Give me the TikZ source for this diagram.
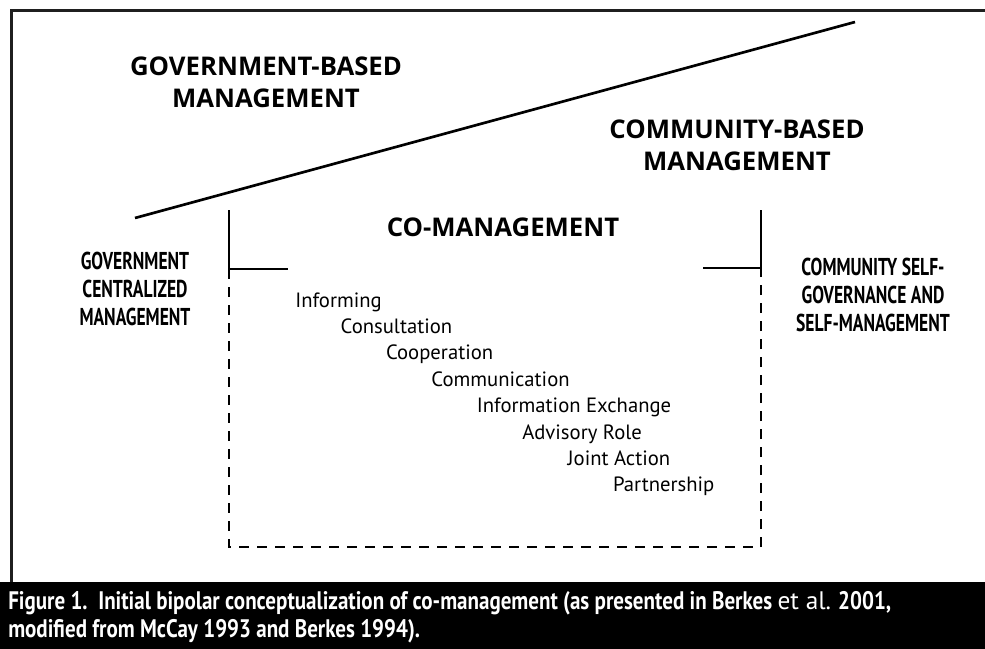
\documentclass[tikz,border=0pt]{standalone}
\usepackage{fontspec}
\setmainfont{Open Sans}
\newfontfamily\listfont{PT Sans}
\newfontfamily\condfont[FakeStretch=0.72]{PT Sans}
\newfontfamily\capfont[FakeStretch=0.83]{PT Sans}
\begin{document}
\begin{tikzpicture}
  [x=0.75pt,y=-0.75pt,every node/.style={inner sep=0pt,align=center}]
  \tikzstyle{heading} = [font=\bfseries\fontsize{19.3}{24}\selectfont]
  \tikzstyle{pole} = [font=\condfont\bfseries\fontsize{18.3}{21}\selectfont]
  \tikzstyle{level} = [anchor=base west,font=\listfont\fontsize{15.5}{18}\selectfont]
  \tikzstyle{bracket} = [line width=1.5pt]
  \tikzstyle{caption} = [anchor=north west,align=left,text=white,
    font=\capfont\bfseries\fontsize{19}{21}\selectfont]
  \useasboundingbox (0,0) rectangle (985,649);
  \draw[line width=2.25pt,color=black!88] (985,11) -- (11,11) -- (11,582);
  \draw[line width=2pt] (135,218) -- (855,22);
  \node[heading] (gov) at (266,82) {GOVERNMENT-BASED\\MANAGEMENT};
  \node[heading] (com) at (737,145) {COMMUNITY-BASED\\MANAGEMENT};
  \node[heading] (co) at (503,227) {CO-MANAGEMENT};
  \node[pole] (gcm) at (135,289) {GOVERNMENT\\CENTRALIZED\\MANAGEMENT};
  \node[pole] (csg) at (873,295) {COMMUNITY SELF-\\GOVERNANCE AND\\SELF-MANAGEMENT};
  % co-management bracket
  \draw[bracket] (229,210) -- (229,269) -- (288,269);
  \draw[bracket] (703,268) -- (761,268) -- (761,210);
  \draw[bracket,dash pattern=on 7.5pt off 6pt] (229,269) -- (229,547) -- (761,547) -- (761,268);
  \foreach \n/\name in {0/Informing,1/Consultation,2/Cooperation,3/Communication,
    4/Information Exchange,5/Advisory Role,6/Joint Action,7/Partnership}
   \node[level] (l\n) at (295+45.4*\n,307+26.4*\n) {\name};
  % caption
  \fill[black] (0,582) rectangle (985,649);
  \node[caption] (cap) at (8,591) {Figure 1.\ \ Initial bipolar conceptualization of co-management (as presented in Berkes {\listfont\mdseries et al.} 2001,\\modified from McCay 1993 and Berkes 1994).};
\end{tikzpicture}
\end{document}
